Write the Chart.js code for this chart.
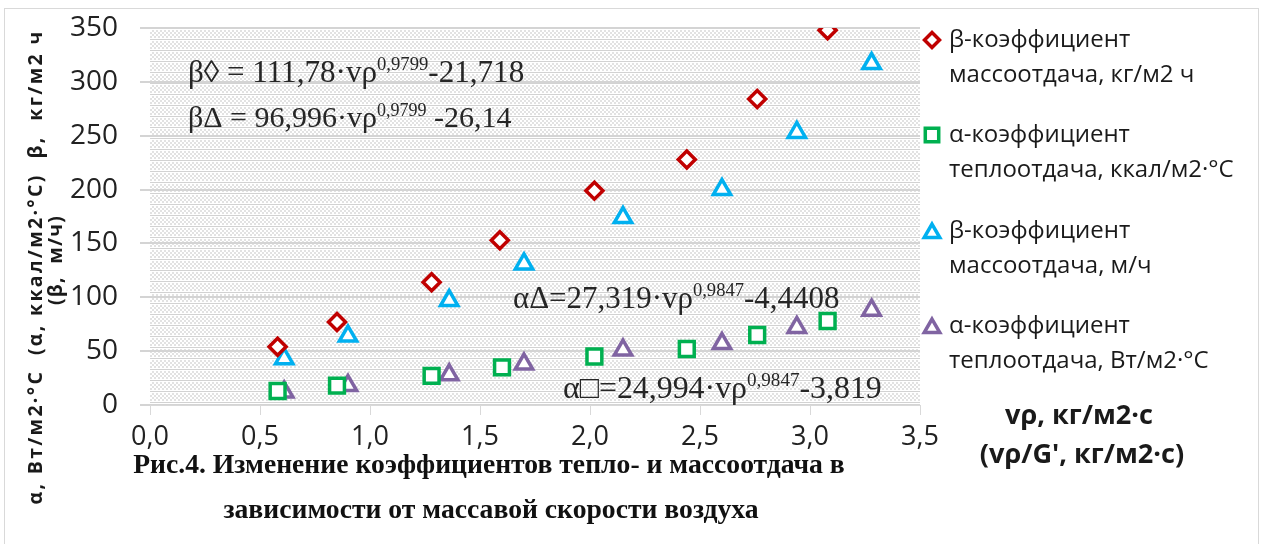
<!DOCTYPE html>
<html>
<head>
<meta charset="utf-8">
<script src="https://cdn.jsdelivr.net/npm/chart.js@4/dist/chart.umd.min.js"></script>
<style>
  html, body { margin: 0; padding: 0; background: #fff; }
  canvas { display: block; }
</style>
</head>
<body>
<canvas id="chart" width="1264" height="544"></canvas>
<script>
// данные
const betaKgX = [0.58, 0.85, 1.28, 1.59, 2.02, 2.44, 2.76, 3.08];
const betaKgY = [54, 77, 114, 153, 199, 228, 284, 348];
const alphaKcalX = [0.58, 0.85, 1.28, 1.60, 2.02, 2.44, 2.76, 3.08];
const alphaKcalY = [13, 18, 27, 35, 45, 52, 65, 78];
const betaMX = [0.61, 0.90, 1.36, 1.70, 2.15, 2.60, 2.94, 3.28];
const betaMY = [43, 64, 97, 131, 174, 200, 253, 317];
const alphaWX = [0.61, 0.90, 1.36, 1.70, 2.15, 2.60, 2.94, 3.28];
const alphaWY = [12, 18, 28, 38, 51, 57, 72, 88];

const xMin = 0, xMax = 3.5, xStep = 0.5;
const yMin = 0, yMax = 350, yStep = 50;

const legendLabels = [
    ['β-коэффициент', 'массоотдача, кг/м2 ч'],
    ['α-коэффициент', 'теплоотдача, ккал/м2·°С'],
    ['β-коэффициент', 'массоотдача, м/ч'],
    ['α-коэффициент', 'теплоотдача, Вт/м2·°С']
];
const yTitle = ['α, Вт/м2·°С  (α, ккал/м2·°С)  β,  кг/м2 ч', '(β,  м/ч)'];
const xTitle = ['vρ, кг/м2·с', '(vρ/G\', кг/м2·с)'];
const caption = ['Рис.4. Изменение коэффициентов тепло- и массоотдача в', 'зависимости от массавой скорости воздуха'];
const equations = [
    [['β◊ = 111,78·vρ'], ['0,9799', 'sup'], ['-21,718']],
    [['βΔ = 96,996·vρ'], ['0,9799', 'sup'], [' -26,14']],
    [['αΔ=27,319·vρ'], ['0,9847', 'sup'], ['-4,4408']],
    [['α□=24,994·vρ'], ['0,9847', 'sup'], ['-3,819']]
];

const SANS = '"Open Sans", "Noto Sans", sans-serif';
const SERIF = '"Liberation Serif", "DejaVu Serif", serif';

function toPoints(xs, ys) { return xs.map((x, i) => ({ x: x, y: ys[i] })); }

// размер шрифта, при котором текст займёт нужную ширину
function fitSize(ctx, text, weight, family, target) {
    ctx.font = `${weight} 100px ${family}`;
    return 100 * target / ctx.measureText(text).width;
}

function makePattern(ctx) {
    const c = document.createElement('canvas');
    c.width = 4; c.height = 11;
    const p = c.getContext('2d');
    p.fillStyle = '#fff'; p.fillRect(0, 0, 4, 11);
    p.fillStyle = '#d2d2d2'; p.fillRect(0, 0, 4, 1);
    p.fillStyle = '#e2e2e2';
    for (let r = 2; r < 10; r += 2) {
        const off = ((r / 2) % 2) * 2;
        p.fillRect(off, r, 2, 2);
    }
    return ctx.createPattern(c, 'repeat');
}

function drawMarker(ctx, style, x, y, r, color) {
    ctx.save();
    ctx.strokeStyle = color; ctx.fillStyle = '#fff'; ctx.lineWidth = 3.5;
    ctx.beginPath();
    if (style === 'rectRot') {
        ctx.moveTo(x - r, y); ctx.lineTo(x, y - r); ctx.lineTo(x + r, y); ctx.lineTo(x, y + r);
    } else if (style === 'rect') {
        const s = r * Math.SQRT1_2;
        ctx.rect(x - s, y - s, 2 * s, 2 * s);
    } else {
        for (let k = 0; k < 3; k++) {
            const a = k * 2 * Math.PI / 3;
            ctx[k ? 'lineTo' : 'moveTo'](x + Math.sin(a) * r, y - Math.cos(a) * r);
        }
    }
    ctx.closePath(); ctx.fill(); ctx.stroke();
    ctx.restore();
}

function drawEquation(ctx, parts, x, base, target) {
    const size = fitSize(ctx, parts[0][0], 'normal', SERIF, target);
    ctx.save();
    ctx.fillStyle = '#262626';
    ctx.textBaseline = 'alphabetic';
    ctx.textAlign = 'left';
    parts.forEach(p => {
        const sup = p[1] === 'sup';
        ctx.font = `${sup ? size * 0.6 : size}px ${SERIF}`;
        ctx.fillText(p[0], x, sup ? base - size * 0.38 : base);
        x += ctx.measureText(p[0]).width;
    });
    ctx.restore();
}

function rotatedText(ctx, text, cx, cy, width) {
    ctx.save();
    ctx.font = `bold 19.5px ${SANS}`;
    ctx.letterSpacing = '0px';
    const w = ctx.measureText(text).width;
    ctx.letterSpacing = Math.max(0, (width - w) / text.length) + 'px';
    ctx.translate(cx, cy); ctx.rotate(-Math.PI / 2);
    ctx.textAlign = 'center';
    ctx.fillText(text, 0, 0);
    ctx.restore();
}

const decor = {
    id: 'decor',
    beforeDraw(chart) {
        const ctx = chart.ctx, a = chart.chartArea;
        ctx.save();
        ctx.fillStyle = '#fff';
        ctx.fillRect(0, 0, chart.width, chart.height);
        // рамка
        ctx.strokeStyle = '#d9d9d9'; ctx.lineWidth = 1;
        ctx.strokeRect(4.5, 8.5, 1254, 560);
        // штриховка области построения
        ctx.translate(a.left, a.top);
        ctx.fillStyle = makePattern(ctx);
        ctx.fillRect(0, 0, a.right - a.left, a.bottom - a.top);
        ctx.restore();
    },
    afterDatasetsDraw(chart) {
        const ctx = chart.ctx;
        drawEquation(ctx, equations[0], 188, 82, 189);
        drawEquation(ctx, equations[1], 188, 127, 189);
        drawEquation(ctx, equations[2], 513, 308, 180);
        drawEquation(ctx, equations[3], 563, 398, 184);
    },
    afterDraw(chart) {
        const ctx = chart.ctx;
        ctx.save();
        ctx.fillStyle = '#1a1a1a';
        ctx.textBaseline = 'middle';

        // легенда
        const ds = chart.data.datasets;
        const legendY = [40, 135, 231, 326];
        ctx.font = `24px ${SANS}`;
        ctx.textAlign = 'left';
        ds.forEach((d, i) => {
            const y = legendY[i];
            drawMarker(ctx, d.pointStyle, 932, d.pointStyle === 'triangle' ? y + 2 : y, d.pointRadius - 1, d.borderColor);
            ctx.fillText(legendLabels[i][0], 949, y);
            ctx.fillText(legendLabels[i][1], 949, y + 35);
        });

        // подпись оси X
        const xs = fitSize(ctx, xTitle[0], 'bold', SANS, 148);
        ctx.font = `bold ${xs}px ${SANS}`;
        ctx.textAlign = 'center';
        ctx.fillText(xTitle[0], 1079, 416);
        ctx.fillText(xTitle[1], 1082, 455);

        // подпись оси Y (повёрнутая)
        rotatedText(ctx, yTitle[0], 36, 267, 475);
        rotatedText(ctx, yTitle[1], 56, 260, 90);

        // подпись рисунка
        const cs = fitSize(ctx, caption[0], 'bold', SERIF, 712);
        ctx.font = `bold ${cs}px ${SERIF}`;
        ctx.fillStyle = '#111';
        ctx.fillText(caption[0], 489, 466);
        ctx.fillText(caption[1], 491, 511);
        ctx.restore();
    }
};

const comma = v => v.toFixed(1).replace('.', ',');

new Chart(document.getElementById('chart'), {
    type: 'scatter',
    data: {
        datasets: [
            { data: toPoints(betaKgX, betaKgY), pointStyle: 'rectRot', pointRadius: 8.5, borderColor: '#c00000' },
            { data: toPoints(alphaKcalX, alphaKcalY), pointStyle: 'rect', pointRadius: 10.5, borderColor: '#00b050' },
            { data: toPoints(betaMX, betaMY), pointStyle: 'triangle', pointRadius: 10, borderColor: '#00b0f0' },
            { data: toPoints(alphaWX, alphaWY), pointStyle: 'triangle', pointRadius: 10, borderColor: '#8064a2' }
        ].map(d => Object.assign(d, {
            backgroundColor: '#fff', pointBackgroundColor: '#fff', pointBorderColor: d.borderColor,
            borderWidth: 3.5, pointBorderWidth: 3.5, pointHoverRadius: d.pointRadius, pointHoverBorderWidth: 3.5
        }))
    },
    options: {
        responsive: false,
        animation: false,
        devicePixelRatio: 1,
        elements: { point: { borderWidth: 3.5 } },
        layout: { padding: { left: 0, right: 344, top: 28, bottom: 0 } },
        plugins: { legend: { display: false }, tooltip: { enabled: false } },
        scales: {
            x: {
                type: 'linear', min: xMin, max: xMax,
                afterFit: s => { s.height = 139; s.paddingLeft = 0; s.paddingRight = 0; },
                ticks: { stepSize: xStep, callback: comma, color: '#222', padding: 6, font: { family: SANS, size: 27 } },
                grid: { drawOnChartArea: false, color: '#d9d9d9', tickLength: 10 },
                border: { display: true, color: '#d9d9d9' }
            },
            y: {
                type: 'linear', min: yMin, max: yMax,
                afterFit: s => { s.width = 150; s.paddingTop = 0; s.paddingBottom = 0; },
                ticks: { stepSize: yStep, color: '#222', padding: 22, font: { family: SANS, size: 28 } },
                grid: { color: '#d4d4d4', lineWidth: 2, tickLength: 10 },
                border: { display: false }
            }
        }
    },
    plugins: [decor]
});
</script>
</body>
</html>
